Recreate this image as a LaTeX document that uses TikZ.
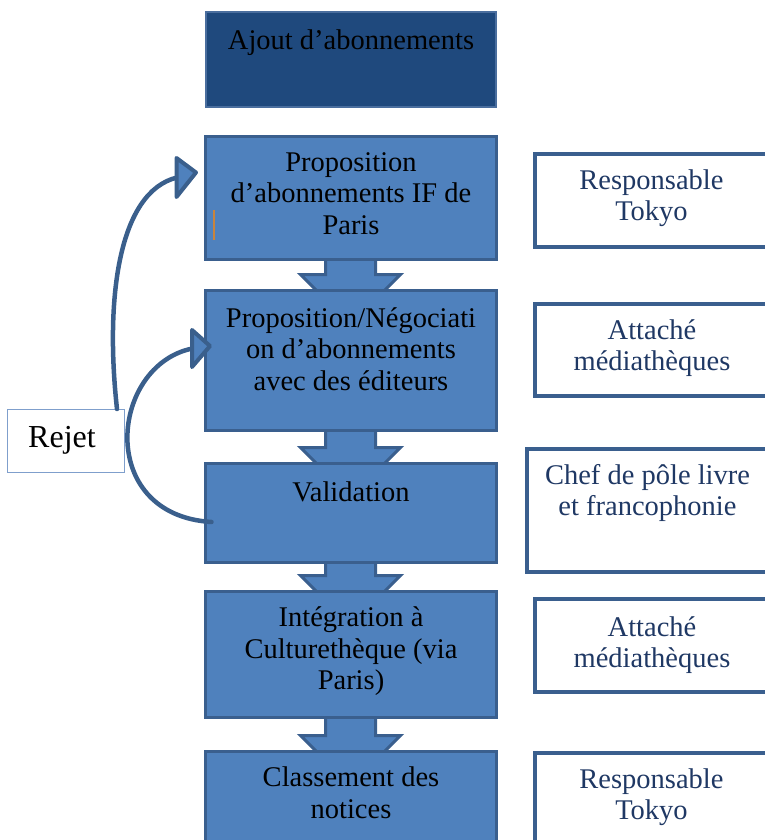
\documentclass[tikz,border=0pt]{standalone}
\usepackage{fontspec}
\setmainfont{Liberation Serif}
\usetikzlibrary{calc,backgrounds}
\definecolor{darkbox}{HTML}{1F497D}
\definecolor{darkedge}{HTML}{4A6E9E}
\definecolor{boxblue}{HTML}{4F81BD}
\definecolor{boxedge}{HTML}{3A5F8E}
\definecolor{curveblue}{HTML}{3A5F8C}
\definecolor{roletext}{HTML}{1F3864}
\definecolor{rejedge}{HTML}{7F9FCC}
\definecolor{caretcol}{HTML}{C8843C}
\newcommand\blockarrow[2]{%
  \draw[blockarrowstyle] let \p1=(#1.south), \p2=(#2.north) in
    (\x1-25pt,\y1+6pt) -- (\x1-25pt,\y2+14pt) -- (\x1-50pt,\y2+14pt) --
    (\x1,\y2-36pt) -- (\x1+50pt,\y2+14pt) -- (\x1+25pt,\y2+14pt) --
    (\x1+25pt,\y1+6pt) -- cycle;}
\begin{document}
\begin{tikzpicture}[x=1pt,y=-1pt,
  stepbox/.style={draw=boxedge, fill=boxblue, line width=3pt, inner sep=0pt, minimum width=291pt},
  topbox/.style={draw=darkedge, fill=darkbox, line width=1.5pt, inner sep=0pt},
  rolebox/.style={draw=boxedge, fill=white, line width=3.5pt, inner sep=0pt},
  rejbox/.style={draw=rejedge, fill=white, line width=1pt, inner sep=0pt},
  blockarrowstyle/.style={draw=boxedge, fill=boxblue, line width=3pt, line join=miter},
  steptext/.style={font=\fontsize{28.5}{31.5}\selectfont, align=center, inner sep=0pt, text=black},
  roletxt/.style={font=\fontsize{28.5}{30.5}\selectfont, align=center, inner sep=0pt, text=roletext},
  curve/.style={draw=curveblue, line width=4.5pt, line cap=round},
  headtri/.style={draw=curveblue, fill=boxblue, line width=4pt, line join=round}]
\useasboundingbox (0,0) rectangle (765,840);
\clip (0,0) rectangle (765,840);

% main column
\node[topbox, minimum width=290pt, minimum height=95pt] (b1) at (351,59.5) {};
\node[stepbox, minimum height=123pt] (b2) at (350.5,197.5) {};
\node[stepbox, minimum height=140pt] (b3) at (350.5,360) {};
\node[stepbox, minimum height=99pt] (b4) at (350.5,512.5) {};
\node[stepbox, minimum height=126pt] (b5) at (350.5,654) {};
\node[stepbox, minimum height=129pt] (b6) at (350.5,815.5) {};

\begin{scope}[on background layer]
  \blockarrow{b2}{b3}
  \blockarrow{b3}{b4}
  \blockarrow{b4}{b5}
  \blockarrow{b5}{b6}
\end{scope}

\node[steptext] (t1) at (351,43) {Ajout d’abonnements};
\node[steptext] (t2) at (351,193.6) {Proposition\\d’abonnements IF de\\Paris};
\node[steptext] (t3) at (351,349) {Proposition/Négociati\\on d’abonnements\\avec des éditeurs};
\node[steptext] (t4) at (351,492) {Validation};
\node[steptext] (t5) at (351,651.5) {Intégration à\\Culturethèque (via\\Paris)};
\node[steptext] (t6) at (351,792.5) {Classement des\\notices};

\draw[caretcol, line width=1.5pt] (214,210) -- (214,240);

% role column
\node[rolebox, minimum width=250pt, minimum height=93pt] (r1) at (660,200.5) {};
\node[rolebox, minimum width=250pt, minimum height=92pt] (r2) at (660,350) {};
\node[rolebox, minimum width=258pt, minimum height=123pt] (r3) at (656,510.5) {};
\node[rolebox, minimum width=250pt, minimum height=93pt] (r4) at (660,645.5) {};
\node[rolebox, minimum width=250pt, minimum height=127pt] (r5) at (660,816.5) {};

\node[roletxt] (r1t) at (651.5,198) {Responsable\\Tokyo};
\node[roletxt] (r2t) at (652,348) {Attaché\\médiathèques};
\node[roletxt] (r3t) at (647.5,493) {Chef de pôle livre\\et francophonie};
\node[roletxt] (r4t) at (652,645) {Attaché\\médiathèques};
\node[roletxt] (r5t) at (651.5,797) {Responsable\\Tokyo};

% rejection loop
\node[rejbox, minimum width=117pt, minimum height=63pt] (rej) at (66,441) {};
\node[steptext, font=\fontsize{32}{34}\selectfont] (rejt) at (62,440.5) {Rejet};

\coordinate (h1) at (177,177.5);
\coordinate (h2) at (192.5,348.5);
\draw[curve] ($(rej.north east)+(-8pt,0pt)$) .. controls (105,300) and (118,192) .. (h1);
\draw[curve] ($(b4.west)+(8pt,-9.5pt)$) .. controls (95,515) and (110,365) .. (h2);
\draw[headtri] (176.5,158) -- (196,172.5) -- (176.5,197) -- cycle;
\draw[headtri] (192,330) -- (210,346) -- (192,367) -- cycle;
\end{tikzpicture}
\end{document}
